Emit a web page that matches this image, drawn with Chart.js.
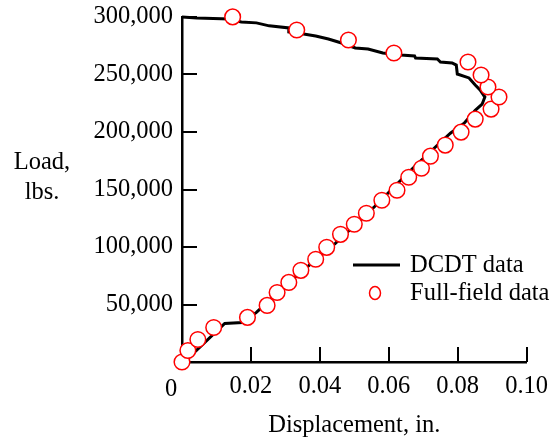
<!DOCTYPE html>
<html><head><meta charset="utf-8">
<script src="https://cdn.jsdelivr.net/npm/chart.js@4/dist/chart.umd.min.js"></script>
<style>html,body{margin:0;padding:0;background:#fff;}canvas{display:block;}</style>
</head><body>
<canvas id="c" width="558" height="440"></canvas>
<script>
// ---- data ----
const dcdtDisp = [0, 0.0017, 0.0124, 0.0175, 0.0216, 0.0310, 0.0445, 0.0560, 0.0635, 0.0670, 0.0741, 0.0779, 0.0819, 0.0851, 0.0871, 0.0879, 0.0865, 0.0851, 0.0833, 0.0799, 0.0796, 0.0784, 0.0750, 0.0741, 0.0678, 0.0675, 0.0635, 0.0583, 0.0540, 0.0503, 0.0463, 0.0425, 0.0388, 0.0353, 0.0310, 0.0310, 0.0253, 0.0216, 0.0172, 0.0138, 0.0043, 0];
const dcdtLoad = [0, 3000, 33500, 34400, 43100, 69200, 103200, 135400, 158000, 168500, 188500, 198900, 207600, 218900, 224200, 230400, 236500, 240900, 247000, 250400, 258200, 260000, 260900, 263500, 264300, 266100, 267000, 268700, 272200, 273100, 277400, 280900, 283500, 285300, 287000, 290500, 292300, 294900, 295700, 298300, 299200, 300000];
const fieldDisp = [0, 0.0017, 0.0046, 0.0092, 0.0190, 0.0247, 0.0276, 0.0310, 0.0345, 0.0388, 0.0420, 0.0460, 0.0500, 0.0535, 0.0580, 0.0624, 0.0658, 0.0695, 0.0721, 0.0764, 0.0810, 0.0851, 0.0897, 0.0920, 0.0888, 0.0868, 0.0830, 0.0615, 0.0483, 0.0333, 0.0147];
const fieldLoad = [0, 10000, 19600, 30000, 38800, 49200, 60500, 69200, 79700, 89300, 99700, 111000, 119800, 129300, 140700, 149400, 160700, 168500, 179000, 188600, 199900, 211200, 219900, 230400, 239100, 249600, 260900, 268700, 280000, 288700, 300100];
const seriesNames = ['DCDT data', 'Full-field data'];
const xTicks = [0, 0.02, 0.04, 0.06, 0.08, 0.10];
const xTickLabels = ['0', '0.02', '0.04', '0.06', '0.08', '0.10'];
const yTicks = [0, 50000, 100000, 150000, 200000, 250000, 300000];
const yTickLabels = ['', '50,000', '100,000', '150,000', '200,000', '250,000', '300,000'];
const xTitle = 'Displacement, in.';
const yTitleLines = ['Load,', 'lbs.'];

// ---- styling ----
const FONT = '"Liberation Serif", "Times New Roman", serif';
const FS = 24.5;
Chart.defaults.font.family = FONT;
Chart.defaults.font.size = FS;
Chart.defaults.color = '#000';

const pts = (xs, ys) => xs.map((v, i) => ({x: v, y: ys[i]}));

const decor = {
  id: 'decor',
  afterDraw(chart) {
    const {ctx, chartArea: a, scales: {x, y}} = chart;
    ctx.save();
    ctx.strokeStyle = '#000';
    ctx.lineWidth = 2;
    xTicks.forEach(v => {
      if (v === 0) return;
      const p = Math.round(x.getPixelForValue(v));
      ctx.beginPath(); ctx.moveTo(p, a.bottom); ctx.lineTo(p, a.bottom - 15); ctx.stroke();
    });
    yTicks.forEach(v => {
      if (v === 0) return;
      const p = Math.round(y.getPixelForValue(v));
      ctx.beginPath(); ctx.moveTo(a.left, p); ctx.lineTo(a.left + 15, p); ctx.stroke();
    });
    ctx.font = FS + 'px ' + FONT;
    ctx.fillStyle = '#000';
    ctx.textAlign = 'center';
    ctx.textBaseline = 'middle';
    // origin label
    ctx.fillText(xTickLabels[0], x.getPixelForValue(0) - 11, a.bottom + 28);
    // y title (horizontal, two lines)
    yTitleLines.forEach((t, i) => ctx.fillText(t, 42, 163 + i * 30));
    // legend
    const lx = a.left + 171, ly = a.top + 248;
    ctx.lineWidth = 3;
    ctx.beginPath(); ctx.moveTo(lx, ly); ctx.lineTo(lx + 47, ly); ctx.stroke();
    ctx.beginPath();
    ctx.ellipse(lx + 22, ly + 28, 5.5, 6.5, 0, 0, Math.PI * 2);
    ctx.fillStyle = '#fff'; ctx.fill();
    ctx.strokeStyle = '#ff0000'; ctx.lineWidth = 1.5; ctx.stroke();
    ctx.fillStyle = '#000';
    ctx.textAlign = 'left';
    ctx.fillText(seriesNames[0], lx + 57, ly + 1);
    ctx.fillText(seriesNames[1], lx + 57, ly + 29);
    ctx.restore();
  }
};

new Chart(document.getElementById('c'), {
  type: 'scatter',
  data: {
    datasets: [
      {
        label: seriesNames[1],
        data: pts(fieldDisp, fieldLoad),
        showLine: false,
        pointRadius: 7.8,
        pointBorderWidth: 1.5,
        pointBorderColor: '#ff0000',
        pointBackgroundColor: '#ffffff',
        clip: false,
        order: 0
      },
      {
        label: seriesNames[0],
        data: pts(dcdtDisp, dcdtLoad),
        showLine: true,
        borderColor: '#000',
        borderWidth: 3,
        pointRadius: 0,
        tension: 0,
        clip: false,
        order: 1
      }
    ]
  },
  options: {
    responsive: false,
    animation: false,
    devicePixelRatio: 1,
    layout: {padding: {left: 0, top: 17, right: 28, bottom: 0}},
    plugins: {legend: {display: false}, tooltip: {enabled: false}},
    scales: {
      x: {
        type: 'linear', min: 0, max: 0.1,
        afterBuildTicks: s => { s.ticks = xTicks.map(v => ({value: v})); },
        afterFit: s => { s.height = 78; },
        grid: {display: false, drawTicks: false},
        border: {display: true, color: '#000', width: 2.5},
        ticks: {padding: 10, maxRotation: 0, autoSkip: false,
          callback: (v, i) => i === 0 ? '' : xTickLabels[i]},
        title: {display: true, text: xTitle, padding: {top: 0, bottom: 0}}
      },
      y: {
        type: 'linear', min: 0, max: 300000,
        afterBuildTicks: s => { s.ticks = yTicks.map(v => ({value: v})); },
        afterFit: s => { s.width = 182; s.paddingTop = 0; s.paddingBottom = 0; },
        grid: {display: false, drawTicks: false},
        border: {display: true, color: '#000', width: 2.5},
        ticks: {padding: 9, autoSkip: false,
          callback: (v, i) => yTickLabels[i]}
      }
    }
  },
  plugins: [decor]
});
</script>
</body></html>
